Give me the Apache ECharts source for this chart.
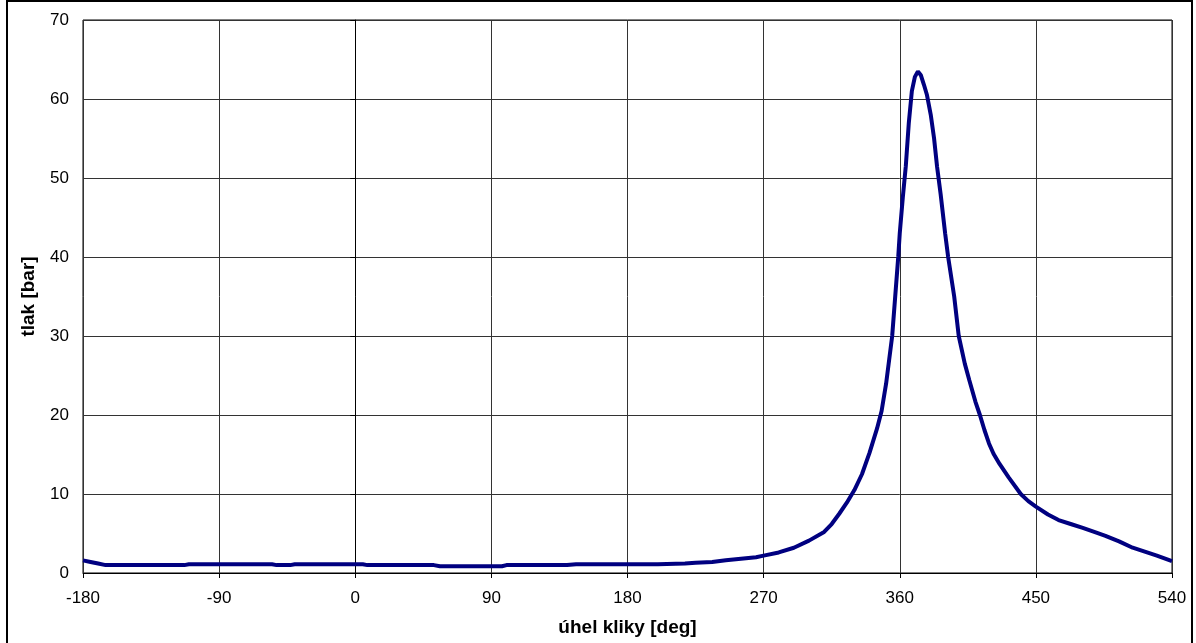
<!DOCTYPE html>
<html>
<head>
<meta charset="utf-8">
<title>tlak v závislosti na úhlu kliky</title>
<script src="https://cdn.jsdelivr.net/npm/echarts@6/dist/echarts.min.js"></script>
<style>
  html, body { margin: 0; padding: 0; background: #fff; }
  #main { width: 1196px; height: 643px; }
</style>
</head>
<body>
<div id="main"></div>
<script>
// úhel kliky [deg]
var uhel = [
  -180, -175, -170, -165, -150, -130, -113, -110, -90, -70, -55, -52, -43, -40, -20, 0, 5, 8, 30, 52,
  56, 80, 97, 100, 140, 146, 180, 200, 218, 225, 236, 245, 255, 265, 270, 280, 290, 300, 310, 315,
  320, 325, 330, 335, 340, 345, 348, 351, 353, 355, 357, 359, 360, 362, 364, 366, 368, 370, 372, 374,
  376, 378, 380.5, 382.7, 384.7, 387, 390, 392, 396, 399, 403, 406, 410, 413, 416, 419, 422, 426, 432, 440,
  445, 450, 458, 465, 473, 481, 490, 496, 505, 514, 522, 530, 540
];
// tlak [bar]
var tlak = [
  1.6, 1.4, 1.2, 1.0, 1.0, 1.0, 1.0, 1.1, 1.1, 1.1, 1.1, 1.0, 1.0, 1.1, 1.1, 1.1, 1.1, 1.0, 1.0, 1.0,
  0.85, 0.85, 0.85, 1.0, 1.0, 1.1, 1.1, 1.1, 1.2, 1.3, 1.4, 1.6, 1.8, 2.0, 2.2, 2.6, 3.2, 4.1, 5.2, 6.2,
  7.5, 8.9, 10.5, 12.5, 15.2, 18.3, 20.5, 24, 27, 30, 35, 40, 43, 47.5, 51.5, 57, 61, 62.8, 63.5, 63,
  61.8, 60.5, 58, 55, 51.4, 48, 43, 40, 35, 30, 26.5, 24.4, 21.7, 20, 18.1, 16.4, 15.1, 13.8, 12.1, 10,
  9.1, 8.4, 7.4, 6.7, 6.2, 5.7, 5.1, 4.7, 4.0, 3.2, 2.7, 2.2, 1.5
];
var xTicks = [-180, 540, 90];  // min, max, interval
var yTicks = [0, 70, 10];

var data = uhel.map(function (u, i) { return [u, tlak[i]]; });

var myChart = echarts.init(document.getElementById('main'));
var option = {
  backgroundColor: '#fff',
  animation: false,
  textStyle: { fontFamily: 'Liberation Sans, Arial, sans-serif' },
  graphic: [{
    type: 'rect',
    shape: { x: 7, y: 1, width: 1185, height: 680 },
    style: { fill: 'none', stroke: '#000', lineWidth: 2 }
  }],
  grid: { left: 83, right: 24, top: 20, bottom: 70, show: true, borderColor: '#000', borderWidth: 1 },
  xAxis: {
    type: 'value',
    min: xTicks[0], max: xTicks[1], interval: xTicks[2],
    name: 'úhel kliky [deg]',
    nameLocation: 'middle',
    nameGap: 45,
    nameTextStyle: { fontSize: 19, fontWeight: 'bold', color: '#000' },
    axisLine: { lineStyle: { color: '#000', width: 1 } },
    axisTick: { show: true, inside: false, length: 5, lineStyle: { color: '#000' } },
    axisLabel: { fontSize: 17, color: '#000', margin: 17 },
    splitLine: { show: true, lineStyle: { color: '#333', width: 1 } }
  },
  yAxis: {
    type: 'value',
    min: yTicks[0], max: yTicks[1], interval: yTicks[2],
    name: 'tlak [bar]',
    nameLocation: 'middle',
    nameGap: 45,
    nameTextStyle: { fontSize: 19, fontWeight: 'bold', color: '#000' },
    axisLine: { show: true, lineStyle: { color: '#000', width: 1 } },
    axisTick: { show: true, inside: false, length: 5, lineStyle: { color: '#000' } },
    axisLabel: { fontSize: 17, color: '#000', margin: 14 },
    splitLine: { show: true, lineStyle: { color: '#333', width: 1 } }
  },
  series: [{
    type: 'line',
    data: data,
    showSymbol: false,
    smooth: false,
    lineStyle: { color: '#000080', width: 4 },
    itemStyle: { color: '#000080' }
  }]
};
myChart.setOption(option);
</script>
</body>
</html>
